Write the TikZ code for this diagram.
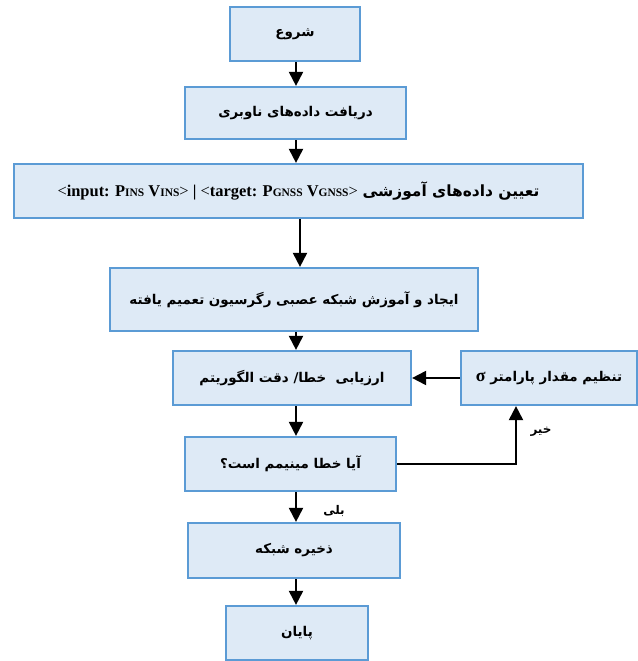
\documentclass[tikz,border=0pt]{standalone}
\usepackage{fontspec}
\setmainfont{Liberation Serif}
\newfontfamily\fa[Script=Arabic]{DejaVu Sans}
\TeXXeTstate=1
\usetikzlibrary{arrows.meta}
\definecolor{boxfill}{RGB}{222,234,246}
\definecolor{boxline}{RGB}{91,155,213}
\begin{document}
\begin{tikzpicture}[x=1bp,y=-1bp,
  box/.style={draw=boxline, fill=boxfill, line width=2.2bp, inner sep=0pt,
    font=\fa\bfseries\fontsize{13.5}{16}\selectfont},
  arr/.style={line width=2bp, -{Triangle[width=14bp,length=14bp]}},
  lbl/.style={font=\fa\bfseries\fontsize{12}{14}\selectfont, inner sep=0pt}]
\useasboundingbox (0,0) rectangle (638,661);
\newcommand{\smc}[1]{{\fontsize{11.5}{12}\selectfont #1}}
\node[box, minimum width=130bp, minimum height=54bp] (b1) at (295,34) {\beginR شروع\endR};
\node[box, minimum width=221bp, minimum height=52bp] (b2) at (295.5,113) {\beginR دریافت داده‌های ناوبری\endR};
\node[box, minimum width=569bp, minimum height=54bp] (b3) at (298.5,191)
  {{\rmfamily\bfseries\fontsize{16.5}{18}\selectfont \textmd{<}input: P\smc{INS} V\smc{INS}\textmd{>} | \textmd{<}target: P\smc{GNSS} V\smc{GNSS}\textmd{>}}\ {\fontsize{15.5}{18}\selectfont\beginR تعیین داده‌های آموزشی\endR}\hspace{14bp}};
\node[box, minimum width=368bp, minimum height=63bp] (b4) at (294,299.5) {\beginR ایجاد و آموزش شبکه عصبی رگرسیون تعمیم یافته\endR};
\node[box, minimum width=238bp, minimum height=54bp] (b5) at (292,378) {\beginR ارزیابی\ \ خطا/ دقت الگوریتم\endR};
\node[box, minimum width=176bp, minimum height=54bp] (b6) at (549,378) {\beginR تنظیم مقدار پارامتر {\rmfamily\bfseries\fontsize{18}{20}\selectfont σ}\endR};
\node[box, minimum width=211bp, minimum height=54bp] (b7) at (290.5,464) {\beginR آیا خطا مینیمم است؟\endR};
\node[box, minimum width=212bp, minimum height=55bp] (b8) at (294,550.5) {\beginR ذخیره شبکه\endR};
\node[box, minimum width=142bp, minimum height=54bp] (b9) at (297,633) {\beginR پایان\endR};
\node[lbl] (no) at (541,432) {\beginR خیر\endR};
\node[lbl] (yes) at (334,511) {\beginR بلی\endR};
\coordinate (ax) at (296,0);
\coordinate (ax2) at (300,0);
\coordinate (fx) at (516,0);
\draw[arr] (b1.south -| ax) -- (b2.north -| ax);
\draw[arr] (b2.south -| ax) -- (b3.north -| ax);
\draw[arr] (b3.south -| ax2) -- (b4.north -| ax2);
\draw[arr] (b4.south -| ax) -- (b5.north -| ax);
\draw[arr] (b5.south -| ax) -- (b7.north -| ax);
\draw[arr] (b7.south -| ax) -- (b8.north -| ax);
\draw[arr] (b8.south -| ax) -- (b9.north -| ax);
\draw[arr] (b7.east) -| (b6.south -| fx);
\draw[arr] (b6.west) -- (b5.east);
\end{tikzpicture}
\end{document}
